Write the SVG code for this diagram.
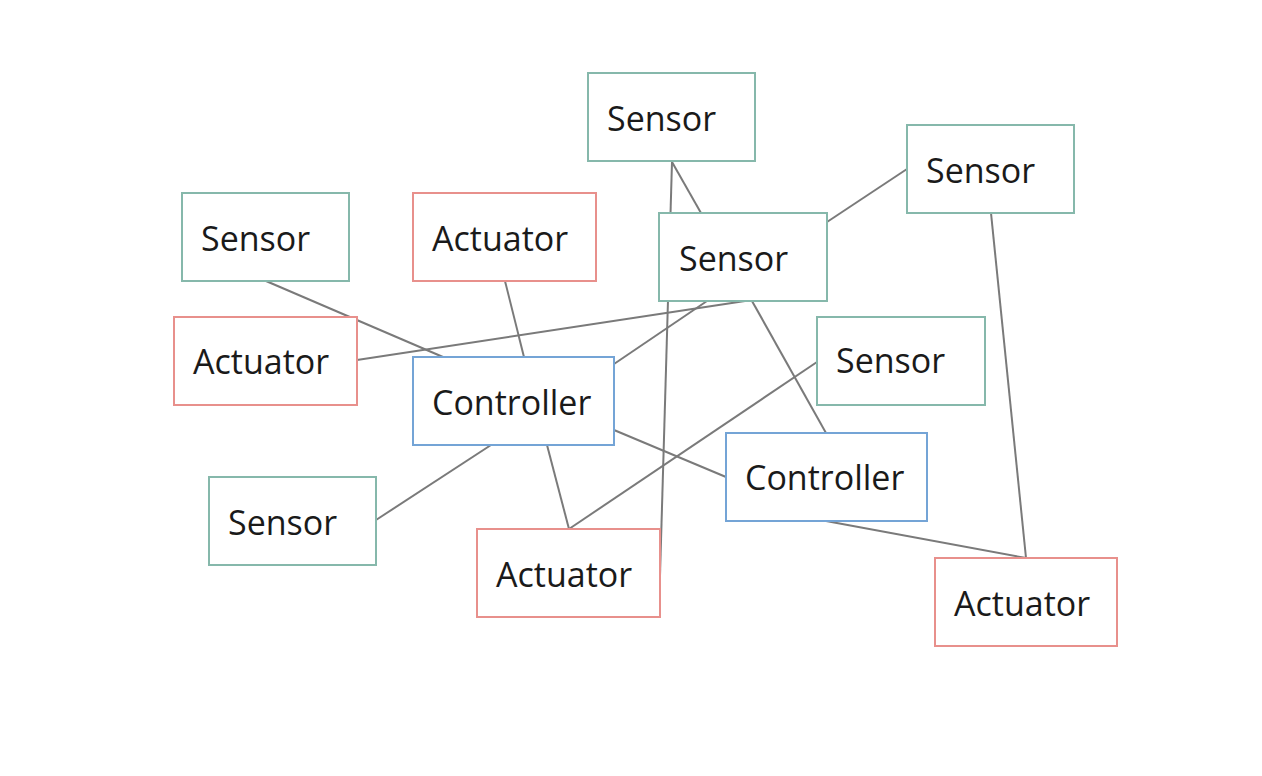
<svg xmlns="http://www.w3.org/2000/svg" width="1262" height="776" viewBox="0 0 1262 776">
<style>
.box{fill:#ffffff;stroke-width:2}
.s{stroke:#86b8ab}
.a{stroke:#e8908c}
.c{stroke:#74a4d6}
.t{font-family:"Open Sans","Liberation Sans",sans-serif;font-size:34px;fill:#1a1a1a}
.ln{stroke:#7a7a7a;stroke-width:2;fill:none}
</style>
<rect width="1262" height="776" fill="#ffffff"/>
<g id="connectors">
<line class="ln" x1="672" y1="162" x2="701" y2="213"/>
<line class="ln" x1="672" y1="162" x2="660" y2="576"/>
<line class="ln" x1="907" y1="169" x2="827" y2="222"/>
<line class="ln" x1="991" y1="213" x2="1026" y2="558"/>
<line class="ln" x1="266" y1="281" x2="443" y2="357"/>
<line class="ln" x1="505" y1="281" x2="524" y2="357"/>
<line class="ln" x1="357" y1="360" x2="745" y2="301"/>
<line class="ln" x1="707" y1="301" x2="614" y2="364"/>
<line class="ln" x1="752" y1="301" x2="826" y2="433"/>
<line class="ln" x1="817" y1="362" x2="569" y2="529"/>
<line class="ln" x1="491" y1="445" x2="376" y2="520"/>
<line class="ln" x1="547" y1="445" x2="569" y2="529"/>
<line class="ln" x1="614" y1="430" x2="726" y2="477"/>
<line class="ln" x1="826" y1="521" x2="1026" y2="558"/>
</g>
<g id="sensor-top"><rect class="box s" x="588" y="73" width="167" height="88"/><text class="t" x="607" y="131">Sensor</text></g>
<g id="sensor-right-top"><rect class="box s" x="907" y="125" width="167" height="88"/><text class="t" x="926" y="183">Sensor</text></g>
<g id="sensor-left"><rect class="box s" x="182" y="193" width="167" height="88"/><text class="t" x="201" y="251">Sensor</text></g>
<g id="actuator-top"><rect class="box a" x="413" y="193" width="183" height="88"/><text class="t" x="432" y="251">Actuator</text></g>
<g id="sensor-middle"><rect class="box s" x="659" y="213" width="168" height="88"/><text class="t" x="679" y="271">Sensor</text></g>
<g id="actuator-left"><rect class="box a" x="174" y="317" width="183" height="88"/><text class="t" x="193" y="374">Actuator</text></g>
<g id="controller-1"><rect class="box c" x="413" y="357" width="201" height="88"/><text class="t" x="432" y="415">Controller</text></g>
<g id="sensor-right-mid"><rect class="box s" x="817" y="317" width="168" height="88"/><text class="t" x="836" y="373">Sensor</text></g>
<g id="controller-2"><rect class="box c" x="726" y="433" width="201" height="88"/><text class="t" x="745" y="490">Controller</text></g>
<g id="sensor-bottom-left"><rect class="box s" x="209" y="477" width="167" height="88"/><text class="t" x="228" y="535">Sensor</text></g>
<g id="actuator-bottom"><rect class="box a" x="477" y="529" width="183" height="88"/><text class="t" x="496" y="587">Actuator</text></g>
<g id="actuator-bottom-right"><rect class="box a" x="935" y="558" width="182" height="88"/><text class="t" x="954" y="616">Actuator</text></g>
</svg>
